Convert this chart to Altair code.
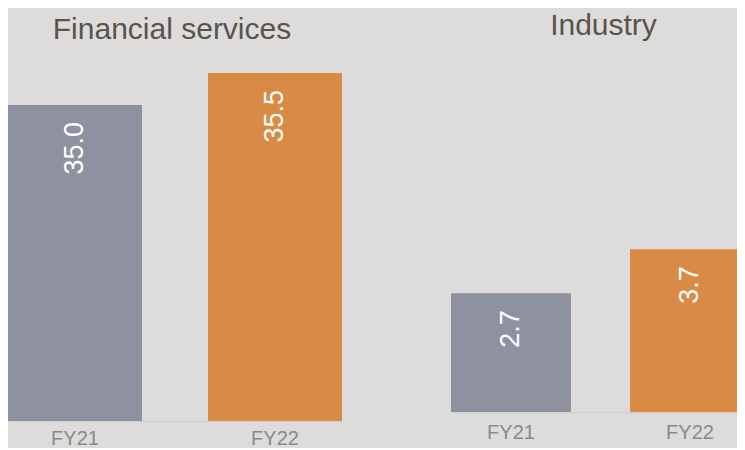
import altair as alt
import pandas as pd

years = ["FY21", "FY22"]
fin_values = [35.0, 35.5]
ind_values = [2.7, 3.7]
titles = ["Financial services", "Industry"]
bar_colors = ["#8e92a0", "#d98a45"]

fin = pd.DataFrame({"year": years, "value": fin_values})
ind = pd.DataFrame({"year": years, "value": ind_values})

color = alt.Color("year:N", scale=alt.Scale(domain=years, range=bar_colors), legend=None)


def axis_x(pad):
    return alt.Axis(
        title=None, ticks=False, labelAngle=0, labelFontSize=20,
        labelColor="#8a8a88", labelFont="Liberation Sans", labelPadding=pad,
        domainColor="#c4c3c1", domainWidth=2, domainOpacity=0.45, grid=False,
    )


def panel(df, title, dx, offset, w, h, xrange, ydomain, pad):
    base = alt.Chart(df).encode(
        x=alt.X("year:N", sort=years, axis=axis_x(pad),
                scale=alt.Scale(range=xrange, paddingInner=0.33, paddingOuter=0)),
        y=alt.Y("value:Q", axis=None, scale=alt.Scale(domain=ydomain, zero=False, nice=False)),
    )
    bars = base.mark_bar(clip=True).encode(color=color)
    labels = base.mark_text(
        angle=270, align="right", baseline="middle", color="white",
        fontSize=27, font="Liberation Sans", yOffset=17,
    ).encode(text=alt.Text("value:Q", format=".1f"))
    return (bars + labels).properties(
        width=w, height=h,
        title=alt.TitleParams(
            title, fontSize=30, font="Liberation Sans", fontWeight="normal",
            color="#58534e", anchor="middle", dx=dx, offset=offset, baseline="alphabetic",
        ),
    )


left = panel(fin, titles[0], -19, -8, 366, 360, [0, 334], [30.0625, 35.6875], 7)
right = panel(ind, titles[1], 24.5, -4, 316, 351, [30, 329], [0, 7.98], 10)

chart = alt.hconcat(left, right, spacing=47).properties(
    background="#dddcda", padding={"top": 3, "left": 0, "right": 0, "bottom": 0}
).configure_view(stroke=None)

chart.save("out.html", embed_options={"renderer": "svg", "actions": False})
